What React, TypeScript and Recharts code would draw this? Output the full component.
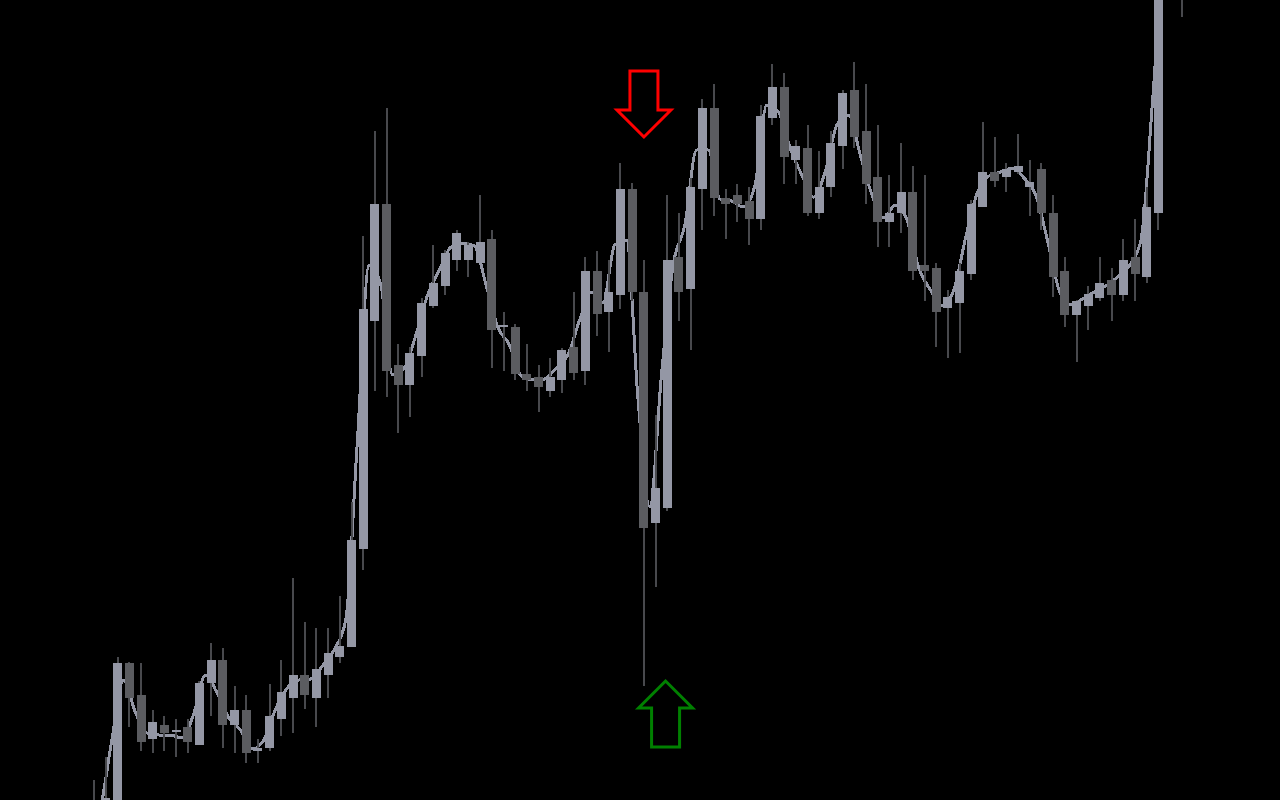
import { ComposedChart, XAxis, YAxis, Bar, Line, Scatter } from 'recharts';

// bar prices, index 0..93
const open = [
  -30, -20, -10, 137, 105, 61, 75, 68, 73, 55,
  117, 140, 75, 90, 49, 52, 81, 102, 125, 102,
  125, 143, 153, 251, 479, 596, 435, 415, 444, 494,
  514, 540, 540, 537, 561, 473, 473, 426, 423, 409,
  420, 453, 429, 529, 488, 505, 611, 508, 277, 292,
  543, 511, 611, 692, 602, 605, 599, 581, 682, 713,
  640, 652, 587, 613, 654, 710, 669, 623, 578, 587,
  608, 535, 532, 492, 497, 526, 593, 628, 623, 628,
  613, 631, 587, 529, 485, 494, 502, 520, 505, 543,
  523, 587, 820, 850,
];
const high = [
  20, 43, 143, 138, 137, 90, 84, 81, 81, 119,
  157, 152, 114, 105, 61, 116, 140, 222, 178, 172,
  172, 204, 298, 564, 669, 692, 456, 453, 502, 555,
  550, 570, 558, 605, 570, 488, 476, 456, 435, 442,
  452, 508, 543, 549, 540, 637, 617, 540, 385, 605,
  587, 622, 701, 716, 611, 616, 613, 695, 736, 727,
  660, 675, 649, 669, 710, 738, 716, 675, 625, 657,
  634, 625, 537, 510, 537, 600, 678, 663, 637, 666,
  640, 637, 605, 543, 500, 514, 543, 532, 561, 581,
  613, 840, 890, 880,
];
const low = [
  -40, -30, -20, 73, 49, 47, 49, 43, 47, 55,
  84, 52, 47, 37, 37, 49, 64, 67, 91, 73,
  102, 137, 153, 230, 409, 403, 367, 383, 423, 492,
  505, 529, 523, 537, 432, 429, 420, 409, 388, 403,
  407, 420, 415, 464, 448, 491, 499, 114, 213, 289,
  479, 450, 570, 584, 561, 578, 555, 570, 675, 616,
  616, 584, 581, 603, 631, 652, 596, 553, 553, 567,
  520, 499, 453, 442, 447, 520, 593, 613, 608, 626,
  584, 570, 503, 473, 438, 470, 499, 479, 499, 499,
  517, 570, 810, 783,
];
const close = [
  -5, 2, 137, 102, 58, 78, 67, 70, 58, 117,
  140, 75, 90, 47, 52, 84, 108, 125, 105, 131,
  147, 154, 260, 491, 596, 429, 415, 447, 497, 517,
  547, 567, 555, 558, 470, 475, 426, 420, 413, 423,
  450, 427, 529, 486, 508, 611, 508, 272, 312, 540,
  508, 613, 692, 602, 596, 596, 581, 684, 713, 643,
  654, 587, 613, 657, 707, 663, 616, 578, 587, 608,
  529, 529, 488, 503, 529, 596, 628, 619, 631, 634,
  618, 587, 523, 485, 499, 506, 517, 505, 540, 526,
  593, 820, 870, 820,
];

// smoothed line, sampled between bars (t = -0.5, 0.5, 1.5 ...)
const smooth = [
  -35, -10, 60, 120, 88, 67, 65, 65, 62, 86,
  125, 107, 82, 70, 51, 60, 91, 112, 120, 121,
  134, 150, 180, 360, 535, 515, 425, 432, 465, 505,
  530, 553, 557, 554, 515, 473, 455, 424, 420, 421,
  432, 445, 480, 508, 497, 555, 560, 400, 293, 425,
  535, 575, 650, 650, 601, 599, 593, 615, 695, 688,
  652, 625, 603, 628, 675, 685, 645, 605, 582, 595,
  580, 532, 510, 494, 510, 562, 607, 624, 628, 632,
  622, 605, 560, 510, 495, 501, 508, 514, 523, 534,
  560, 700, 860, 900,
];

// signal arrows (bar time, price at arrow tip)
const arrowTimes = [47, 48.85];
const arrowPrices = [663, 119];
const arrowDirs = ['down', 'up'];

const candles = open.map((o, i) => ({
  t: i, open: o, high: high[i], low: low[i], close: close[i],
}));
const lineData = smooth.map((v, i) => ({ t: i - 0.5, v }));
const arrows = arrowTimes.map((t, i) => ({ t, v: arrowPrices[i], dir: arrowDirs[i] }));

const BULL = '#9497a5';
const BEAR = '#5b5c60';
const WICK = '#48494d';

function Candle(props: any) {
  const { x, y, width, height, payload } = props;
  if (x == null || y == null) return null;
  const { open: o, close: c, high: h, low: l } = payload;
  const top = Math.min(y, y + height);
  const bottom = Math.max(y, y + height);
  const px = (v: number) => (h === l ? top : bottom - ((v - l) / (h - l)) * (bottom - top));
  const cx = x + width / 2;
  const bTop = Math.round(px(Math.max(o, c)));
  const bBot = Math.round(px(Math.min(o, c)));
  const left = Math.round(cx - 4.5);
  return (
    <g shapeRendering="crispEdges">
      <rect x={Math.round(cx - 1)} y={Math.round(top)} width={2}
        height={Math.round(bottom) - Math.round(top)} fill={WICK} />
      <rect x={left} y={bTop} width={9} height={Math.max(2, bBot - bTop)} fill={c >= o ? BULL : BEAR} />
    </g>
  );
}

function Arrow(props: any) {
  const { cx, cy, payload } = props;
  if (cx == null || cy == null) return null;
  const s = payload.dir === 'down' ? -1 : 1;
  const p = (dx: number, dy: number) => `${cx + dx},${cy + s * dy}`;
  const pts = [p(0, 0), p(-27, 27), p(-14, 27), p(-14, 66), p(14, 66), p(14, 27), p(27, 27)].join(' ');
  return (
    <polygon points={pts} fill="none" stroke={payload.dir === 'down' ? '#ff0000' : '#008000'}
      strokeWidth={3} strokeLinejoin="miter" />
  );
}

export default function App() {
  return (
    <div style={{ position: 'fixed', left: 0, top: 0, width: 1280, height: 800, background: '#000' }}>
      <ComposedChart width={1280} height={800} data={candles}
        margin={{ top: 0, right: 0, bottom: 0, left: 0 }}>
        <XAxis type="number" dataKey="t" domain={[-8.065, 101.39]} hide allowDataOverflow />
        <YAxis type="number" domain={[0, 800]} hide allowDataOverflow />
        <Line data={lineData} dataKey="v" type="monotone" stroke={BULL} strokeWidth={3}
          shapeRendering="crispEdges" dot={false} activeDot={false} isAnimationActive={false} zIndex={250} />
        <Bar dataKey={(d: any) => [d.low, d.high]} barSize={9} shape={<Candle />}
          isAnimationActive={false} />
        <Scatter data={arrows} dataKey="v" shape={<Arrow />} isAnimationActive={false} />
      </ComposedChart>
    </div>
  );
}
